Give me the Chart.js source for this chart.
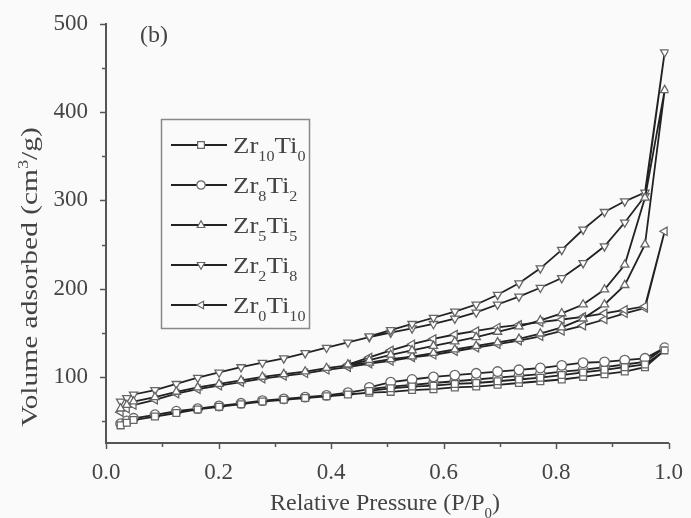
<!DOCTYPE html>
<html lang="en">
<head>
<meta charset="UTF-8">
<title>Isotherms (b)</title>
<style>
  html, body { margin: 0; padding: 0; background: #fafafa; }
  #chart { display: block; }
</style>
</head>
<body>
<canvas id="chart" width="691" height="518"></canvas>

<script src="https://cdn.jsdelivr.net/npm/chart.js"></script>
<script>
// relative pressure P/P0 of the adsorption branch and the desorption branch
const pAds = [0.026, 0.037, 0.049, 0.087, 0.125, 0.163, 0.201, 0.240, 0.278, 0.316, 0.354, 0.392, 0.430, 0.468,
              0.506, 0.544, 0.582, 0.620, 0.658, 0.696, 0.734, 0.772, 0.810, 0.848, 0.886, 0.922, 0.958, 0.993];
const pDes = [0.958, 0.922, 0.886, 0.848, 0.810, 0.772, 0.734, 0.696, 0.658, 0.620, 0.582, 0.544, 0.506, 0.468, 0.430];

// volume adsorbed (cm3/g)
const zr10ti0Ads = [45, 48, 51, 55, 59, 63, 66, 69, 72, 74, 76, 78, 80, 82, 83, 85, 86, 88, 89, 91, 93, 95, 97, 100, 103, 106, 111, 130];
const zr10ti0Des = [114, 111, 108, 105, 102, 99, 97, 95, 93, 92, 90, 89, 87, 84];
const zr8ti2Ads = [47, 50, 53, 57, 61, 64, 67, 70, 73, 75, 77, 79, 82, 86, 89, 91, 93, 95, 97, 99, 101, 103, 106, 108, 111, 114, 117, 133];
const zr8ti2Des = [121, 119, 117, 116, 113, 110, 108, 106, 104, 102, 100, 97, 94, 88];
const zr5ti5Ads = [64, 68, 72, 77, 83, 88, 92, 96, 100, 103, 106, 110, 113, 116, 120, 123, 127, 131, 135, 139, 143, 149, 156, 166, 182, 204, 250, 425];
const zr5ti5Des = [303, 227, 199, 182, 172, 164, 157, 151, 145, 140, 135, 130, 125, 119, 114];
const zr2ti8Ads = [72, 76, 80, 85, 92, 99, 105, 111, 116, 121, 127, 133, 139, 145, 150, 155, 160, 166, 173, 182, 191, 201, 212, 229, 248, 275, 305, 468];
const zr2ti8Des = [309, 299, 287, 267, 244, 223, 206, 193, 182, 174, 167, 160, 153, 146];
const zr0ti10Ads = [60, 64, 68, 74, 81, 86, 90, 94, 98, 101, 104, 108, 111, 115, 118, 122, 125, 129, 133, 137, 141, 146, 152, 158, 165, 172, 178, 265];
const zr0ti10Des = [180, 176, 172, 168, 165, 162, 159, 156, 152, 148, 143, 137, 130, 122, 114];

// legend names as [text, sub] pieces
const seriesNames = [
    [['Zr', ''], ['10', 'sub'], ['Ti', ''], ['0', 'sub']],
    [['Zr', ''], ['8', 'sub'], ['Ti', ''], ['2', 'sub']],
    [['Zr', ''], ['5', 'sub'], ['Ti', ''], ['5', 'sub']],
    [['Zr', ''], ['2', 'sub'], ['Ti', ''], ['8', 'sub']],
    [['Zr', ''], ['0', 'sub'], ['Ti', ''], ['10', 'sub']]
];
const xTitle = [['Relative Pressure (P/P', ''], ['0', 'sub'], [')', '']];
const yTitle = [['Volume adsorbed (cm', ''], ['3', 'sup'], ['/g)', '']];
const panelLabel = '(b)';

const FONT = '"Liberation Serif", "DejaVu Serif", serif';
const TEXT = '#444';

function isotherm(ads, des) {
    const pts = ads.map((v, i) => ({ x: pAds[i], y: v }));
    return pts.concat(des.map((v, i) => ({ x: pDes[i], y: v })));
}

const markers = [
    { style: 'rect', rot: 0 },
    { style: 'circle', rot: 0 },
    { style: 'triangle', rot: 0 },
    { style: 'triangle', rot: 180 },
    { style: 'triangle', rot: -90 }
];

function makeSet(i, ads, des) {
    return {
        data: isotherm(ads, des),
        showLine: true,
        borderColor: '#222',
        borderWidth: 1.8,
        pointStyle: markers[i].style,
        rotation: markers[i].rot,
        pointRadius: 4.8,
        pointBackgroundColor: '#ffffff',
        pointBorderColor: '#666',
        pointBorderWidth: 1.3
    };
}

function drawRich(ctx, parts, x, y, size, align, subRatio) {
    const sr = subRatio || 0.62;
    let w = 0;
    parts.forEach(p => {
        ctx.font = (p[1] ? size * sr : size) + 'px ' + FONT;
        w += ctx.measureText(p[0]).width;
    });
    let cx = align === 'center' ? x - w / 2 : x;
    parts.forEach(p => {
        const s = p[1] ? size * sr : size;
        ctx.font = s + 'px ' + FONT;
        let dy = 0;
        if (p[1] === 'sub') dy = size * 0.32;
        if (p[1] === 'sup') dy = -size * 0.4;
        ctx.fillText(p[0], cx, y + dy);
        cx += ctx.measureText(p[0]).width;
    });
}

function drawMarker(ctx, i, x, y, r) {
    ctx.save();
    ctx.translate(x, y);
    ctx.rotate(markers[i].rot * Math.PI / 180);
    ctx.beginPath();
    if (markers[i].style === 'rect') {
        ctx.rect(-r * 0.8, -r * 0.8, r * 1.6, r * 1.6);
    } else if (markers[i].style === 'circle') {
        ctx.arc(0, 0, r, 0, Math.PI * 2);
    } else {
        ctx.moveTo(0, -r);
        ctx.lineTo(r * 0.9, r * 0.6);
        ctx.lineTo(-r * 0.9, r * 0.6);
        ctx.closePath();
    }
    ctx.fillStyle = '#fff';
    ctx.fill();
    ctx.strokeStyle = '#666';
    ctx.lineWidth = 1.2;
    ctx.stroke();
    ctx.restore();
}

const extras = {
    id: 'extras',
    beforeDraw(chart) {
        const ctx = chart.ctx;
        ctx.save();
        ctx.fillStyle = '#fafafa';
        ctx.fillRect(0, 0, chart.width, chart.height);
        ctx.restore();
    },
    afterDraw(chart) {
        const ctx = chart.ctx;
        const xs = chart.scales.x, ys = chart.scales.y;
        const a = chart.chartArea;
        ctx.save();
        // tick marks, outward
        ctx.strokeStyle = '#555';
        ctx.lineWidth = 1.5;
        for (let k = 0; k <= 10; k++) {
            const px = Math.round(xs.getPixelForValue(k / 10)) + 0.5;
            ctx.beginPath();
            ctx.moveTo(px, a.bottom);
            ctx.lineTo(px, a.bottom + (k % 2 ? 4 : 6));
            ctx.stroke();
        }
        for (let v = 50; v <= 500; v += 50) {
            const py = Math.round(ys.getPixelForValue(v)) + 0.5;
            ctx.beginPath();
            ctx.moveTo(a.left, py);
            ctx.lineTo(a.left - (v % 100 ? 4 : 6), py);
            ctx.stroke();
        }

        ctx.fillStyle = TEXT;
        ctx.textBaseline = 'alphabetic';
        // axis titles
        drawRich(ctx, xTitle, 385, 510, 24, 'center');
        ctx.save();
        ctx.translate(37, 277);
        ctx.rotate(-Math.PI / 2);
        ctx.scale(1.28, 1);
        drawRich(ctx, yTitle, 0, 0, 23, 'center');
        ctx.restore();
        // panel label
        ctx.font = '24px ' + FONT;
        ctx.fillText(panelLabel, 140, 42);

        // legend
        ctx.strokeStyle = '#888';
        ctx.lineWidth = 1.5;
        ctx.strokeRect(161.5, 119.5, 148, 209);
        seriesNames.forEach((name, i) => {
            const y = 145 + i * 40;
            ctx.strokeStyle = '#222';
            ctx.lineWidth = 1.8;
            ctx.beginPath();
            ctx.moveTo(171, y);
            ctx.lineTo(227, y);
            ctx.stroke();
            drawMarker(ctx, i, 201, y, 4.2);
            ctx.fillStyle = TEXT;
            ctx.save();
            ctx.translate(233, y + 8);
            ctx.scale(1.12, 1);
            drawRich(ctx, name, 0, 0, 24, 'left', 0.6);
            ctx.restore();
        });
        ctx.restore();
    }
};

const chart = new Chart(document.getElementById('chart'), {
    type: 'scatter',
    data: {
        datasets: [
            makeSet(0, zr10ti0Ads, zr10ti0Des),
            makeSet(1, zr8ti2Ads, zr8ti2Des),
            makeSet(2, zr5ti5Ads, zr5ti5Des),
            makeSet(3, zr2ti8Ads, zr2ti8Des),
            makeSet(4, zr0ti10Ads, zr0ti10Des)
        ]
    },
    options: {
        responsive: false,
        animation: false,
        devicePixelRatio: 1,
        layout: { padding: { left: 0, top: 24, right: 19, bottom: 0 } },
        plugins: { legend: { display: false }, tooltip: { enabled: false } },
        scales: {
            x: {
                type: 'linear',
                min: 0, max: 1,
                grid: { display: false },
                border: { display: true, color: '#555', width: 2 },
                ticks: {
                    stepSize: 0.2,
                    padding: 8,
                    color: TEXT,
                    font: { family: FONT, size: 23 },
                    maxRotation: 0,
                    callback: v => v.toFixed(1)
                },
                afterFit: s => { s.height = 75; }
            },
            y: {
                type: 'linear',
                min: 25, max: 500,
                grid: { display: false },
                border: { display: true, color: '#555', width: 2 },
                ticks: {
                    stepSize: 100,
                    includeBounds: false,
                    padding: 10,
                    color: TEXT,
                    font: { family: FONT, size: 23 },
                    callback: v => (v % 100 === 0 ? v : '')
                },
                afterFit: s => { s.width = 106; }
            }
        }
    },
    plugins: [extras]
});
</script>
</body>
</html>
